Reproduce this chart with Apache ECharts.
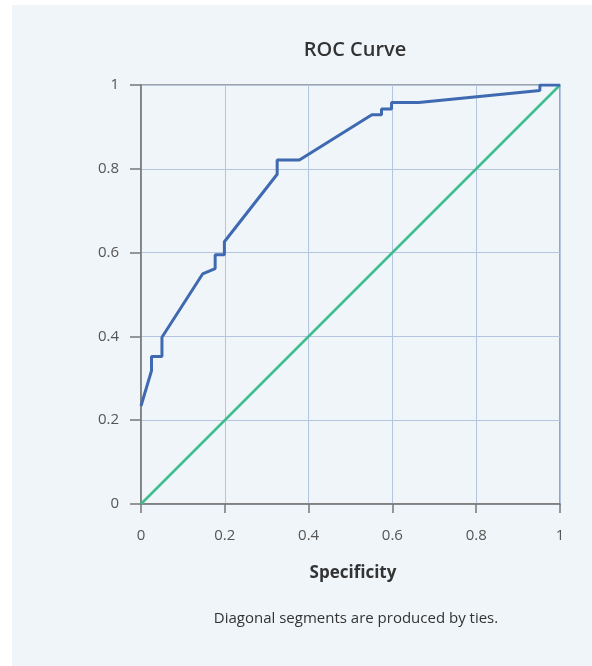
<!DOCTYPE html>
<html>
<head>
<meta charset="utf-8">
<script src="https://cdn.jsdelivr.net/npm/echarts@6/dist/echarts.min.js"></script>
<style>
html,body{margin:0;padding:0;background:#ffffff;}
#chart{width:592px;height:666px;}
</style>
</head>
<body>
<div id="chart"></div>
<script>
// ROC curve points (x = Specificity axis value, y = sensitivity)
var rocX = [0, 0.025, 0.025, 0.05, 0.05, 0.147, 0.177, 0.177, 0.199, 0.199, 0.325, 0.325, 0.378, 0.551, 0.574, 0.574, 0.598, 0.598, 0.663, 0.952, 0.952, 1];
var rocY = [0.234, 0.318, 0.352, 0.352, 0.398, 0.549, 0.562, 0.595, 0.595, 0.626, 0.787, 0.821, 0.821, 0.929, 0.929, 0.943, 0.943, 0.958, 0.958, 0.987, 1, 1];
var diagX = [0, 1];
var diagY = [0, 1];
var tickLabels = ['0', '0.2', '0.4', '0.6', '0.8', '1'];

var FONT = 'Open Sans';
var chart = echarts.init(document.getElementById('chart'), null, {renderer: 'canvas'});

function pairs(xs, ys) { return xs.map(function (x, i) { return [x, ys[i]]; }); }
function fmt(v) { var i = Math.round(v * 5); return tickLabels[i] !== undefined ? tickLabels[i] : String(v); }

chart.setOption({
  backgroundColor: '#ffffff',
  animation: false,
  graphic: [
    {type: 'rect', z: -10, silent: true, shape: {x: 12, y: 5, width: 580, height: 661}, style: {fill: '#eff5f8'}},
    {type: 'text', x: 355, y: 50, style: {text: 'ROC Curve', align: 'center', verticalAlign: 'middle', fontSize: 20, fontWeight: 600, fontFamily: FONT, fill: '#333333'}},
    {type: 'text', x: 353, y: 573, style: {text: 'Specificity', align: 'center', verticalAlign: 'middle', fontSize: 17, fontWeight: 'bold', fontFamily: FONT, fill: '#333333'}},
    {type: 'text', x: 356, y: 619, style: {text: 'Diagonal segments are produced by ties.', align: 'center', verticalAlign: 'middle', fontSize: 15, fontFamily: FONT, fill: '#333333'}}
  ],
  grid: {left: 141, right: 32, top: 85, bottom: 162, show: true, borderColor: '#888888', borderWidth: 1.5, backgroundColor: 'transparent'},
  xAxis: {
    type: 'value', min: 0, max: 1, interval: 0.2,
    axisLine: {show: true, lineStyle: {color: '#777777', width: 1.5}},
    axisTick: {show: true, length: 9, lineStyle: {color: '#777777', width: 1.5}},
    axisLabel: {margin: 24, fontSize: 15, color: '#555555', fontFamily: FONT, formatter: fmt},
    splitLine: {show: true, lineStyle: {color: '#b3c5e0', width: 1}}
  },
  yAxis: {
    type: 'value', min: 0, max: 1, interval: 0.2,
    axisLine: {show: true, lineStyle: {color: '#777777', width: 1.5}},
    axisTick: {show: true, length: 11, lineStyle: {color: '#777777', width: 1.5}},
    axisLabel: {margin: 22, fontSize: 15, color: '#555555', fontFamily: FONT, formatter: fmt},
    splitLine: {show: true, lineStyle: {color: '#b3c5e0', width: 1}}
  },
  series: [
    {type: 'line', data: pairs(diagX, diagY), symbol: 'none', lineStyle: {color: '#3fbd8f', width: 2.5}, z: 2},
    {type: 'line', data: pairs(rocX, rocY), symbol: 'none', lineStyle: {color: '#3f69b0', width: 3}, z: 3}
  ]
});
</script>
</body>
</html>
